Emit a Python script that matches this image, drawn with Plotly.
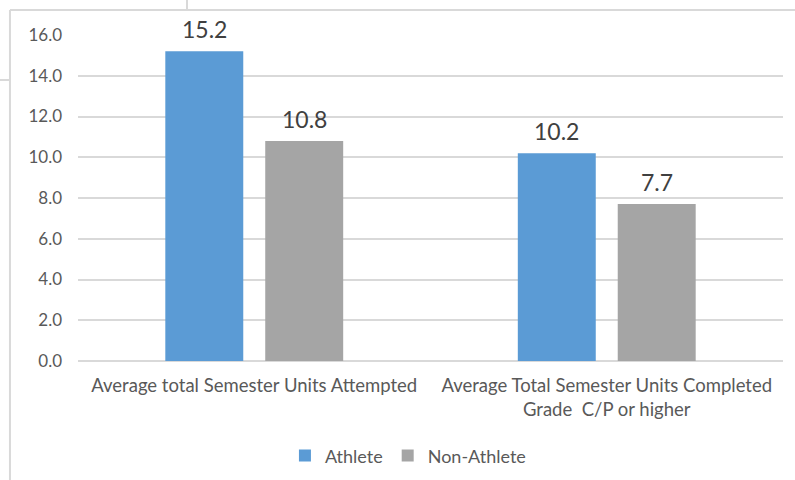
import plotly.graph_objects as go

categories = ["Average total Semester Units Attempted",
              "Average Total Semester Units Completed<br>Grade  C/P or higher"]
series_names = ["Athlete", "Non-Athlete"]
athlete = [15.2, 10.2]
non_athlete = [10.8, 7.7]
y_ticks = [0, 2, 4, 6, 8, 10, 12, 14, 16]
y_tick_labels = ["0.0", "2.0", "4.0", "6.0", "8.0", "10.0", "12.0", "14.0", "16.0"]

colors = ["#5B9BD5", "#A5A5A5"]
FONT = "Lato"

fig = go.Figure()
for name, vals, col in zip(series_names, [athlete, non_athlete], colors):
    fig.add_trace(go.Bar(name=name, x=categories, y=vals, marker_color=col,
                         marker_line_width=0))

annotations = []
for vals, shift in zip([athlete, non_athlete], [-50, 50]):
    for c, v in zip(categories, vals):
        annotations.append(dict(x=c, y=v, text=f"{v:.1f}", showarrow=False,
                                xshift=shift, yanchor="bottom", yshift=6,
                                font=dict(family=FONT, size=23, color="#404040")))

line_col = "#D9D9D9"
shapes = [
    dict(type="line", xref="paper", yref="paper", x0=-0.0965, x1=1.02, y0=1.0767, y1=1.0767,
         line=dict(color=line_col, width=2)),
    dict(type="line", xref="paper", yref="paper", x0=-0.0965, x1=-0.0965, y0=1.0767, y1=-0.4,
         line=dict(color=line_col, width=2)),
    dict(type="line", xref="paper", yref="paper", x0=0.1546, x1=0.1546, y0=1.11, y1=1.0767,
         line=dict(color=line_col, width=2)),
    dict(type="line", xref="paper", yref="paper", x0=-0.12, x1=-0.0965, y0=0.862, y1=0.862,
         line=dict(color=line_col, width=2)),
]

fig.update_layout(
    width=795, height=480,
    margin=dict(l=78, r=12, t=35, b=119, autoexpand=False),
    paper_bgcolor="white", plot_bgcolor="white",
    barmode="group", bargap=0.433, bargroupgap=0.22,
    font=dict(family=FONT, color="#595959"),
    xaxis=dict(showgrid=False, showline=False, ticks="", tickfont=dict(size=18.5, color="#595959"),
               ticklabelstandoff=11, fixedrange=True),
    yaxis=dict(range=[0, 16], tickvals=y_ticks, ticktext=y_tick_labels,
               showgrid=True, gridcolor=line_col, gridwidth=2,
               zeroline=True, zerolinecolor=line_col, zerolinewidth=2,
               showline=False, ticks="", tickfont=dict(size=17, color="#595959"),
               ticklabelstandoff=15),
    legend=dict(orientation="h", x=0.468, xanchor="center", y=-0.291, yanchor="middle",
                font=dict(size=18, color="#595959"), itemwidth=30, traceorder="normal"),
    annotations=annotations,
    shapes=shapes,
    showlegend=True,
)

fig.write_html("out.html", config={"displayModeBar": False},
               post_script="document.body.style.margin='0';document.body.style.overflow='hidden';")
